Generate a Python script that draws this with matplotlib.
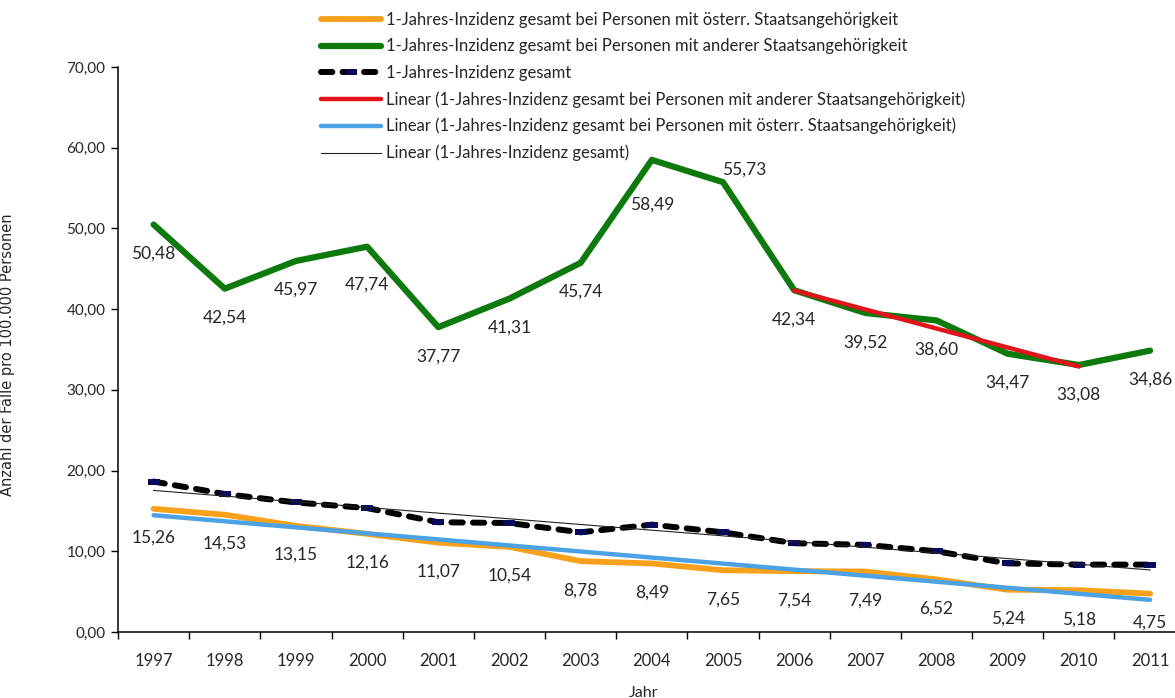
import numpy as np
import matplotlib
matplotlib.use("Agg")
import matplotlib.pyplot as plt
from matplotlib.ticker import FixedLocator, FuncFormatter

years = ["1997", "1998", "1999", "2000", "2001", "2002", "2003", "2004",
         "2005", "2006", "2007", "2008", "2009", "2010", "2011"]
austrian = [15.26, 14.53, 13.15, 12.16, 11.07, 10.54, 8.78, 8.49,
            7.65, 7.54, 7.49, 6.52, 5.24, 5.18, 4.75]
other = [50.48, 42.54, 45.97, 47.74, 37.77, 41.31, 45.74, 58.49,
         55.73, 42.34, 39.52, 38.60, 34.47, 33.08, 34.86]
total = [18.64, 17.10, 16.05, 15.35, 13.60, 13.50, 12.35, 13.30,
         12.35, 11.00, 10.80, 10.00, 8.50, 8.35, 8.35]
# subset of the "other" series used for its linear trend (2006-2010)
trend_other_years = ["2006", "2007", "2008", "2009", "2010"]

labels = [
    "1-Jahres-Inzidenz gesamt bei Personen mit österr. Staatsangehörigkeit",
    "1-Jahres-Inzidenz gesamt bei Personen mit anderer Staatsangehörigkeit",
    "1-Jahres-Inzidenz gesamt",
    "Linear (1-Jahres-Inzidenz gesamt bei Personen mit anderer Staatsangehörigkeit)",
    "Linear (1-Jahres-Inzidenz gesamt bei Personen mit österr. Staatsangehörigkeit)",
    "Linear (1-Jahres-Inzidenz gesamt)",
]

plt.rcParams['font.family'] = ['Lato', 'DejaVu Sans']
TXT = '#262626'

fig = plt.figure(figsize=(11.75, 6.98), dpi=100)
ax = fig.add_axes([118/1175, 66/698, (1175-118)/1175, (632-67)/698])

x = np.arange(len(years))

l1, = ax.plot(x, austrian, color='#F7A11A', lw=4.2, solid_capstyle='round',
              solid_joinstyle='round', zorder=3)
l2, = ax.plot(x, other, color='#0E7A0E', lw=4.5, solid_capstyle='round',
              solid_joinstyle='round', zorder=3)
l3, = ax.plot(x, total, color='black', lw=4.3, dashes=(1.9, 1.7),
              dash_capstyle='round', solid_joinstyle='round',
              marker='_', markersize=9, mew=4.3, mec='#0A0A5A', zorder=4)

# linear trends
idx = [years.index(y) for y in trend_other_years]
sub = np.array([other[i] for i in idx])
c = np.polyfit(np.array(idx, float), sub, 1)
l4, = ax.plot(np.array(idx), np.polyval(c, np.array(idx)), color='#E3131B',
              lw=3.2, solid_capstyle='round', zorder=5)
c = np.polyfit(x, austrian, 1)
l5, = ax.plot(x, np.polyval(c, x), color='#4BA2E6', lw=3.2,
              solid_capstyle='round', zorder=5)
c = np.polyfit(x, total, 1)
l6, = ax.plot(x, np.polyval(c, x), color='#222222', lw=0.8, zorder=6)

fmt = lambda v: f"{v:.2f}".replace('.', ',')

LFS = 12.5
for i, v in enumerate(austrian):
    ax.annotate(fmt(v), (i, v), xytext=(0, -21), textcoords='offset points',
                ha='center', va='center', fontsize=LFS, color=TXT)

special = {3: (0, -27), 7: (0, -32), 8: (15, 9)}
for i, v in enumerate(other):
    off = special.get(i, (0, -21))
    ax.annotate(fmt(v), (i, v), xytext=off, textcoords='offset points',
                ha='center', va='center', fontsize=LFS, color=TXT)

ax.set_xlim(-0.5, 14.35)
ax.set_ylim(0, 70)
ax.set_xticks(x)
ax.set_xticklabels(years)
ax.xaxis.set_minor_locator(FixedLocator(np.arange(-0.5, 14.6, 1.0)))
ax.tick_params(axis='x', which='major', length=0, pad=15, labelsize=12,
               labelcolor=TXT)
ax.tick_params(axis='x', which='minor', length=5, direction='out', width=1)
ax.set_yticks(np.arange(0, 71, 10))
ax.yaxis.set_major_formatter(FuncFormatter(lambda v, p: fmt(v)))
ax.tick_params(axis='y', length=5, width=1, direction='out', pad=4,
               labelsize=11, labelcolor=TXT)

for s in ['top', 'right']:
    ax.spines[s].set_visible(False)
for s in ['left', 'bottom']:
    ax.spines[s].set_linewidth(1.1)

ax.set_xlabel("Jahr", fontsize=11.5, color=TXT, labelpad=10)
ax.xaxis.set_label_coords(0.497, -0.095)
ax.set_ylabel("Anzahl der Fälle pro 100.000 Personen", fontsize=10.5,
              color=TXT, family=['DejaVu Sans'])
ax.yaxis.set_label_coords(-0.097, 0.49)

leg = fig.legend([l1, l2, l3, l4, l5, l6], labels, loc='upper left',
                 bbox_to_anchor=(321/1175, 1 - 12/698), frameon=False,
                 borderpad=0, borderaxespad=0, handlelength=3.6,
                 handletextpad=0.3, labelspacing=0.62, fontsize=12,
                 numpoints=1)
for t in leg.get_texts():
    t.set_color(TXT)

fig.savefig("out.png", dpi=100)
